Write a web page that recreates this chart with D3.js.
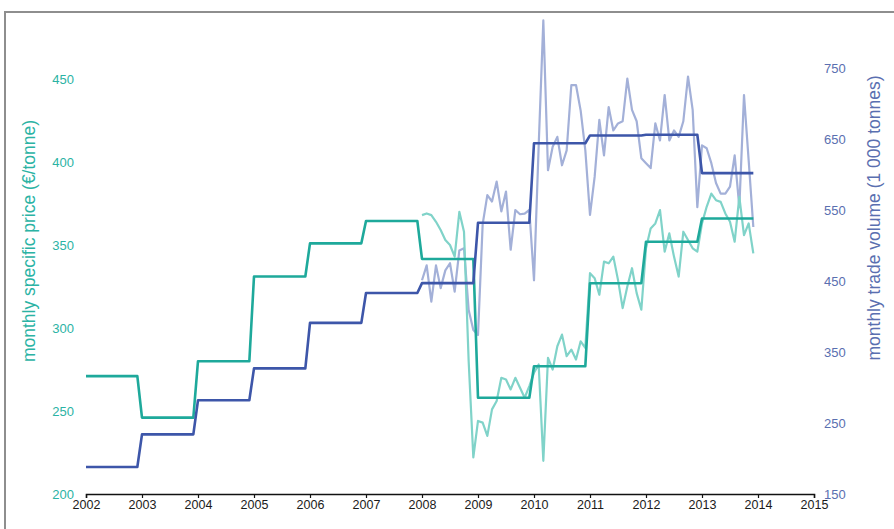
<!DOCTYPE html>
<html>
<head>
<meta charset="utf-8">
<script src="https://cdn.jsdelivr.net/npm/d3@7"></script>
<style>
  html, body { margin: 0; padding: 0; background: #fff; }
  svg { display: block; font-family: "Liberation Sans", Arial, sans-serif; }
</style>
</head>
<body>
<svg id="chart" width="894" height="529"></svg>
<script>
// Annual averages, one value per calendar year
const years = [2002, 2003, 2004, 2005, 2006, 2007, 2008, 2009, 2010, 2011, 2012, 2013];
const annualPrice = [271, 246, 280, 331, 351, 364.5, 341.6, 258, 277, 327, 352, 366];
const annualVolume = [188, 234, 282, 327, 391, 433, 447, 532, 644, 655, 656, 602];

// Monthly series, January 2008 to December 2013
const monthlyStart = 2008;
const monthlyPrice = [
  368, 369, 368, 364, 359, 353, 350, 343, 370, 358, 280, 222,
  244, 243, 235, 251, 256, 270, 269, 263, 270, 264, 258, 265,
  273, 278, 220, 282, 275, 289, 296, 283, 287, 281, 292, 288,
  333, 330, 320, 340, 339, 343, 329, 312, 325, 336, 321, 311,
  348, 360, 363, 371, 346, 357, 343, 331, 358, 353, 348, 346,
  363, 373, 381, 377, 376, 369, 364, 352, 379, 356, 363, 345
];
const monthlyVolume = [
  451, 472, 421, 472, 440, 465, 475, 435, 493, 496, 409, 381,
  374, 530, 571, 562, 590, 548, 576, 494, 550, 544, 545, 550,
  451, 640, 817, 606, 639, 653, 613, 634, 726, 726, 690, 634,
  543, 597, 677, 627, 695, 662, 672, 675, 735, 691, 675, 623,
  616, 609, 672, 648, 712, 648, 662, 653, 675, 738, 691, 554,
  641, 637, 616, 588, 573, 573, 583, 627, 554, 712, 620, 526
];

// Axis ticks
const xTicks = [2002, 2003, 2004, 2005, 2006, 2007, 2008, 2009, 2010, 2011, 2012, 2013, 2014, 2015];
const priceTicks = [200, 250, 300, 350, 400, 450];
const volumeTicks = [150, 250, 350, 450, 550, 650, 750];

const colors = {
  priceAnnual: "#1ea99b",
  priceMonthly: "#80d3c9",
  volumeAnnual: "#3d56a9",
  volumeMonthly: "#a3b0d8",
  priceText: "#2bb3a4",
  volumeText: "#5a6fb0"
};

const svg = d3.select("#chart");

// Frame around the figure
svg.append("rect")
  .attr("x", 5).attr("y", 12)
  .attr("width", 1000).attr("height", 1000)
  .attr("fill", "none")
  .attr("stroke", "#8e8e8e")
  .attr("stroke-width", 2);

const x = d3.scaleLinear().domain([2002, 2015]).range([86, 814]);
const yPrice = d3.scaleLinear().domain([200, 450]).range([494, 79]);
const yVolume = d3.scaleLinear().domain([150, 750]).range([494, 68]);

// Each annual value is held from January to December of its year
const stepPoints = vals => years.flatMap((yr, i) => [[yr, vals[i]], [yr + 11 / 12, vals[i]]]);
const monthPoints = vals => vals.map((v, i) => [monthlyStart + i / 12, v]);

const linePrice = d3.line().x(d => x(d[0])).y(d => yPrice(d[1]));
const lineVolume = d3.line().x(d => x(d[0])).y(d => yVolume(d[1]));

const marks = svg.append("g").attr("fill", "none").attr("stroke-linejoin", "round");

marks.append("path")
  .attr("d", lineVolume(monthPoints(monthlyVolume)))
  .attr("stroke", colors.volumeMonthly).attr("stroke-width", 2.2);

marks.append("path")
  .attr("d", linePrice(monthPoints(monthlyPrice)))
  .attr("stroke", colors.priceMonthly).attr("stroke-width", 2.2);

marks.append("path")
  .attr("d", linePrice(stepPoints(annualPrice)))
  .attr("stroke", colors.priceAnnual).attr("stroke-width", 2.6);

marks.append("path")
  .attr("d", lineVolume(stepPoints(annualVolume)))
  .attr("stroke", colors.volumeAnnual).attr("stroke-width", 2.6);

// Bottom axis
const xAxis = svg.append("g")
  .attr("transform", `translate(0,${yPrice(200)})`)
  .call(d3.axisBottom(x).tickValues(xTicks).tickFormat(d3.format("d")).tickSizeInner(4).tickSizeOuter(4).tickPadding(2));
xAxis.select(".domain").attr("stroke", "#111").attr("stroke-width", 1.5);
xAxis.selectAll(".tick line").attr("stroke", "#111").attr("stroke-width", 1.2);
xAxis.selectAll("text").attr("fill", "#1a1a1a").attr("font-size", 12.5)
  .attr("font-family", "Liberation Sans, Arial, sans-serif");

// Left axis: price labels only
const leftAxis = svg.append("g")
  .attr("transform", "translate(74,0)")
  .call(d3.axisLeft(yPrice).tickValues(priceTicks).tickSize(0).tickPadding(0));
leftAxis.select(".domain").remove();
leftAxis.selectAll("text").attr("fill", colors.priceText).attr("font-size", 13)
  .attr("font-family", "Liberation Sans, Arial, sans-serif");

// Right axis: volume labels only
const rightAxis = svg.append("g")
  .attr("transform", "translate(824,0)")
  .call(d3.axisRight(yVolume).tickValues(volumeTicks).tickSize(0).tickPadding(0));
rightAxis.select(".domain").remove();
rightAxis.selectAll("text").attr("fill", colors.volumeText).attr("font-size", 13)
  .attr("font-family", "Liberation Sans, Arial, sans-serif");

// Axis titles
svg.append("text")
  .attr("transform", "translate(35,241) rotate(-90)")
  .attr("text-anchor", "middle")
  .attr("fill", colors.priceText)
  .attr("font-size", 17.5)
  .text("monthly specific price (€/tonne)");

svg.append("text")
  .attr("transform", "translate(880,218) rotate(-90)")
  .attr("text-anchor", "middle")
  .attr("fill", colors.volumeText)
  .attr("font-size", 17.5)
  .text("monthly trade volume (1 000 tonnes)");
</script>
</body>
</html>
